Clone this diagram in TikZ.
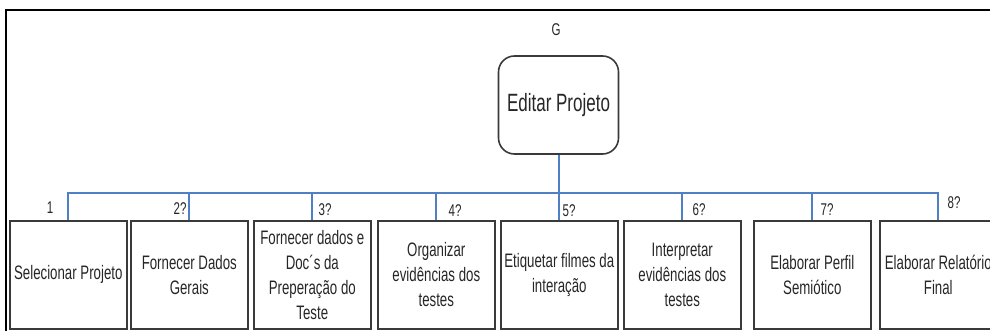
\documentclass[tikz,border=0pt]{standalone}
\usepackage{fontspec}
\setmainfont[FakeStretch=0.68]{Liberation Sans}
\definecolor{boxgray}{HTML}{3A3A3A}
\definecolor{busblue}{HTML}{4F7FC4}
\definecolor{txt}{HTML}{262626}
\begin{document}
\begin{tikzpicture}[x=1pt,y=-1pt,
  task/.style={draw=boxgray, line width=1.6pt, minimum width=117pt, minimum height=108pt,
    inner sep=0pt, align=center, font=\fontsize{19.5}{25}\selectfont, text=txt, anchor=north west},
  topbox/.style={draw=boxgray, line width=1.6pt, rounded corners=16pt, minimum width=120pt,
    minimum height=98pt, inner sep=0pt, align=center, font=\fontsize{25}{28}\selectfont, text=txt},
  bus/.style={draw=busblue, line width=2pt},
  num/.style={font=\fontsize{17}{19}\selectfont, text=txt, inner sep=0pt}]
\useasboundingbox (0,0) rectangle (990,331);
\clip (0,0) rectangle (990,331);
\draw[line width=2pt] (995,10) -- (6,10) -- (6,340);

\node[task] (t1) at (9,220) {Selecionar Projeto};
\node[task] (t2) at (130,220) {Fornecer Dados\\Gerais};
\node[task] (t3) at (253,220) {Fornecer dados e\\Doc´s da\\Preperação do\\Teste};
\node[task] (t4) at (377,220) {Organizar\\evidências dos\\testes};
\node[task] (t5) at (500,220) {Etiquetar filmes da\\interação};
\node[task] (t6) at (623,220) {Interpretar\\evidências dos\\testes};
\node[task] (t7) at (753,220) {Elaborar Perfil\\Semiótico};
\node[task] (t8) at (879,220) {Elaborar Relatório\\Final};

\node[topbox] (ed) at (558.5,105) {Editar Projeto};
\node[num] (g) at (556,30) {G};

\coordinate (bus) at (0,193);
\draw[bus] (t1.north) -- (t1.north |- bus) -- (t8.north |- bus) -- (t8.north);
\foreach \i in {2,...,7} { \draw[bus] (t\i.north) -- (t\i.north |- bus); }
\draw[bus] (ed.south) -- (ed.south |- bus);

\node[num] (n1) at (50,208) {1};
\node[num] (n2) at (180,209) {2?};
\node[num] (n3) at (325,210) {3?};
\node[num] (n4) at (455,211) {4?};
\node[num] (n5) at (569,211) {5?};
\node[num] (n6) at (699,210) {6?};
\node[num] (n7) at (827,210) {7?};
\node[num] (n8) at (954,203) {8?};
\end{tikzpicture}
\end{document}
